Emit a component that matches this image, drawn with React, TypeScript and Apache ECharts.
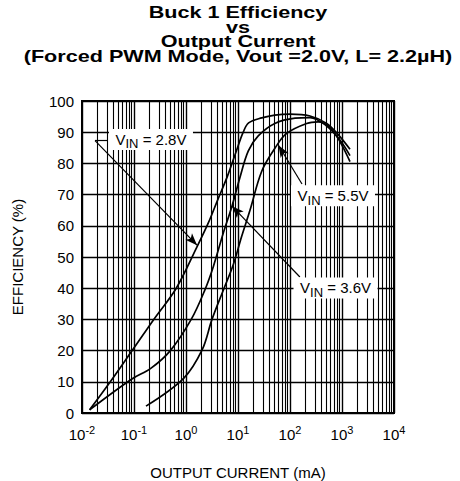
import React, { useEffect, useRef } from "react";
import * as echarts from "echarts";

const titleLines = [
  "Buck 1 Efficiency",
  "vs",
  "Output Current",
  "(Forced PWM Mode, Vout =2.0V, L= 2.2µH)",
];
const xAxisName = "OUTPUT CURRENT (mA)";
const yAxisName = "EFFICIENCY (%)";

const xMin = 0.01;
const xMax = 10000;
const yMin = 0;
const yMax = 100;
const yInterval = 10;

const decadeExponents = [-2, -1, 0, 1, 2, 3];
const minorMultipliers = [2, 3, 4, 5, 6, 7, 8, 9];

// [output current mA, efficiency %]
const vin28: [number, number][] = [
  [0.014, 1], [0.035, 10], [0.092, 20], [0.24, 30], [0.65, 40],
  [1.6, 53], [2.7, 61], [4.0, 68], [6.3, 76], [9.3, 84], [12.6, 90],
  [16, 93], [28.6, 94.6], [51, 95.5], [100, 95.8], [243, 95.2],
  [508, 92.8], [912, 88.6], [1425, 84.5],
];
const vin36: [number, number][] = [
  [0.014, 1], [0.091, 10.9], [0.21, 14.3], [0.5, 20], [1.26, 30], [2.3, 39.4],
  [3.35, 46.9], [5.2, 57.6], [7.6, 66.1], [10.9, 75.5], [15.8, 84], [24.5, 88.8],
  [51, 92.8], [125, 94.5], [243, 94.7], [508, 92], [912, 87.5], [1425, 82.5],
];
const vin55: [number, number][] = [
  [0.17, 2.2], [0.9, 11.1], [2.04, 20.2], [3.16, 30], [5.4, 40], [8.1, 47.5],
  [11.7, 56.5], [17, 65], [28.6, 77.5], [51, 84.8], [86, 89.6], [209, 92.8],
  [347, 93.3], [589, 91.5], [912, 87], [1425, 80.6],
];

const seriesNames = ["2.8V", "3.6V", "5.5V"];

// annotation anchors in data coordinates
const labelCenters: [number, number][] = [[0.212, 87.7], [750, 40.1], [671, 69.6]];
const arrowFrom: [number, number][] = [[0.0178, 87.3], [155, 43.6], [170, 73.4]];
const arrowTo: [number, number][] = [[1.63, 53.8], [7.67, 66.3], [60, 85.8]];
const leaderFrom: [number, number] = [0.0316, 87.3];

const FONT = '"Liberation Sans", Arial, Helvetica, sans-serif';

export default function App() {
  const ref = useRef<HTMLDivElement>(null);
  useEffect(() => {
    if (!ref.current) return;
    const chart = echarts.init(ref.current, null, { renderer: "svg" });

    const minorLines: any[] = [];
    decadeExponents.forEach((e) => {
      minorMultipliers.forEach((m) => {
        minorLines.push({ xAxis: m * Math.pow(10, e) });
      });
    });

    const labelRich = {
      v: { fontSize: 15, fontFamily: FONT, color: "#000", lineHeight: 22 },
      sub: { fontSize: 13, fontFamily: FONT, color: "#000", lineHeight: 13, verticalAlign: "bottom" },
      t: { fontSize: 15, fontFamily: FONT, color: "#000", lineHeight: 22 },
    };

    const markPointData = seriesNames.map((n, i) => ({
      coord: labelCenters[i],
      symbol: "rect",
      symbolSize: [84, 21],
      itemStyle: { color: "#fff" },
      label: {
        show: true,
        position: "inside",
        formatter: `{v|V}{sub|IN}{t| = ${n}}`,
        rich: labelRich,
      },
    }));

    const arrowData: any[] = seriesNames.map((_, i) => [
      { coord: arrowFrom[i], symbol: "none" },
      { coord: arrowTo[i], symbol: "arrow", symbolSize: [7, 12] },
    ]);
    arrowData.push([
      { coord: leaderFrom, symbol: "none" },
      { coord: arrowFrom[0], symbol: "none" },
    ]);

    const curveStyle = { color: "#000", width: 1.7 };
    const curves = [vin28, vin36, vin55].map((d, i) => ({
      type: "line",
      name: seriesNames[i],
      data: d,
      showSymbol: false,
      smooth: 0.35,
      lineStyle: curveStyle,
      itemStyle: { color: "#000" },
      z: 3,
      silent: true,
    }));

    const option: any = {
      animation: false,
      backgroundColor: "#fff",
      grid: {
        left: 82,
        right: 66,
        top: 101,
        bottom: 68,
        show: true,
        borderColor: "#000",
        borderWidth: 2,
        backgroundColor: "transparent",
        containLabel: false,
        outerBoundsMode: "none",
      },
      graphic: titleLines.map((t, i) => ({
        type: "text",
        x: 238,
        y: [12, 26.5, 41, 55.5][i],
        scaleX: 1.27,
        style: {
          text: t,
          fontSize: 17,
          fontWeight: "bold",
          fontFamily: FONT,
          fill: "#000",
          align: "center",
          verticalAlign: "middle",
          textAlign: "center",
          textVerticalAlign: "middle",
        },
      })),
      xAxis: {
        type: "log",
        logBase: 10,
        min: xMin,
        max: xMax,
        splitNumber: 6,
        name: xAxisName,
        nameLocation: "middle",
        nameGap: 52,
        nameTextStyle: { fontSize: 15, fontFamily: FONT, color: "#000" },
        axisLine: { show: true, lineStyle: { color: "#000", width: 2 } },
        axisTick: { show: false },
        splitLine: { show: true, lineStyle: { color: "#000", width: 1.4 } },
        axisLabel: {
          margin: 11,
          formatter: (v: number) => {
            const e = Math.round(Math.log10(v));
            return `{b|10}{s|${e}}`;
          },
          rich: {
            b: { fontSize: 15, fontFamily: FONT, color: "#000", lineHeight: 20 },
            s: { fontSize: 11, fontFamily: FONT, color: "#000", lineHeight: 11, verticalAlign: "top" },
          },
        },
      },
      yAxis: {
        type: "value",
        min: yMin,
        max: yMax,
        interval: yInterval,
        name: yAxisName,
        nameLocation: "middle",
        nameRotate: 90,
        nameGap: 57,
        nameTextStyle: { fontSize: 15, fontFamily: FONT, color: "#000" },
        axisLine: { show: true, lineStyle: { color: "#000", width: 2 } },
        axisTick: { show: false },
        splitLine: { show: true, lineStyle: { color: "#000", width: 1.4 } },
        axisLabel: { fontSize: 15, fontFamily: FONT, color: "#000", margin: 8 },
      },
      series: [
        {
          type: "line",
          name: "minor-grid",
          data: [],
          silent: true,
          z: 1,
          markLine: {
            silent: true,
            symbol: ["none", "none"],
            label: { show: false },
            lineStyle: { color: "#000", width: 1.1, type: "solid" },
            data: minorLines,
          },
        },
        ...curves,
        {
          type: "line",
          name: "annotations",
          data: [],
          silent: true,
          z: 5,
          markPoint: {
            silent: true,
            data: markPointData,
          },
          markLine: {
            silent: true,
            symbol: ["none", "none"],
            label: { show: false },
            lineStyle: { color: "#000", width: 1.2, type: "solid" },
            data: arrowData,
          },
        },
      ],
    };
    chart.setOption(option);
    return () => chart.dispose();
  }, []);
  return (
    <div
      ref={ref}
      style={{ position: "absolute", left: 0, top: 0, width: 460, height: 481 }}
    />
  );
}
